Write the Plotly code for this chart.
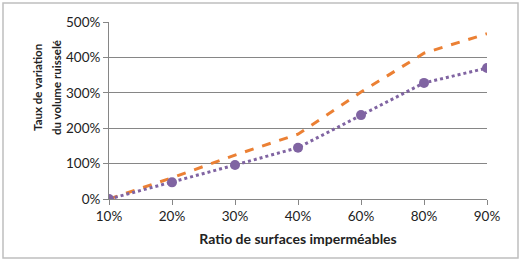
import plotly.graph_objects as go

categories = ["10%", "20%", "30%", "40%", "60%", "80%", "90%"]
serie_orange = [0.0, 0.60, 1.24, 1.83, 3.02, 4.12, 4.67]
serie_violet = [0.0, 0.47, 0.96, 1.45, 2.37, 3.28, 3.70]
y_ticks = [0, 1, 2, 3, 4, 5]
y_labels = ["0%", "100%", "200%", "300%", "400%", "500%"]
y_title_lines = ["Taux de variation", "du volume ruisselé"]

font_family = "Lato, 'Open Sans', sans-serif"

fig = go.Figure()
fig.add_trace(go.Scatter(
    x=categories, y=serie_orange, mode="lines",
    line=dict(color="#EB8034", width=3, dash="dash"),
    showlegend=False))
fig.add_trace(go.Scatter(
    x=categories, y=serie_violet, mode="lines+markers",
    line=dict(color="#8064A2", width=3, dash="dot"),
    marker=dict(color="#8064A2", size=10),
    showlegend=False))

L, R, T, B = 109, 487, 22, 199
W, H = R - L, B - T

annotations = []
for i, (line, px) in enumerate(zip(y_title_lines, [37, 56])):
    annotations.append(dict(
        text="<b>%s</b>" % line, textangle=-90, showarrow=False,
        xref="paper", yref="paper",
        x=(px - L) / W, y=(B - 88) / H,
        xanchor="center", yanchor="middle",
        font=dict(size=11.5, color="#222")))

fig.update_layout(
    width=522, height=262,
    margin=dict(l=L, r=522 - R, t=T, b=262 - B),
    paper_bgcolor="white", plot_bgcolor="white",
    font=dict(family=font_family, size=13, color="#222"),
    xaxis=dict(
        type="category", range=[0, 6],
        showgrid=False, showline=True, linecolor="#868686", linewidth=1,
        ticks="outside", ticklen=5, tickcolor="#868686",
        title=dict(text="<b>Ratio de surfaces imperméables</b>", font=dict(size=14), standoff=10),
        tickfont=dict(size=13.5),
    ),
    yaxis=dict(
        range=[0, 5], tickvals=y_ticks, ticktext=y_labels,
        showgrid=True, gridcolor="#868686", gridwidth=1,
        showline=True, linecolor="#868686", linewidth=1,
        ticks="outside", ticklen=5, tickcolor="#868686",
        zeroline=False,
        tickfont=dict(size=13.5),
    ),
    annotations=annotations,
    shapes=[dict(type="rect", xref="paper", yref="paper",
                 x0=(3 - L) / W, x1=(518 - L) / W,
                 y0=(B - 258) / H, y1=(B - 3) / H,
                 line=dict(color="#BFBFBF", width=1.5), layer="below")],
)

fig.write_html("out.html")
